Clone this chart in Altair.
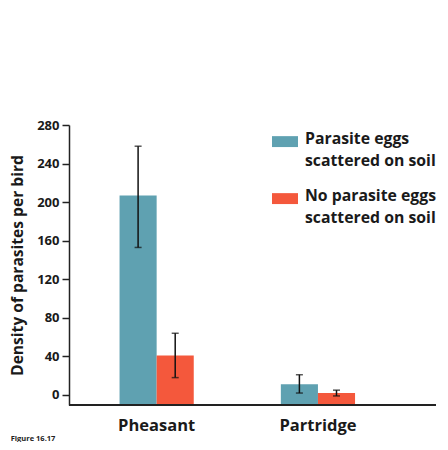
import altair as alt
import pandas as pd

birds = ["Pheasant", "Pheasant", "Partridge", "Partridge"]
conditions = [
    "Parasite eggs|scattered on soil",
    "No parasite eggs|scattered on soil",
    "Parasite eggs|scattered on soil",
    "No parasite eggs|scattered on soil",
]
means = [207, 41, 11, 2]
lows = [153, 18, 2, -1]
highs = [258, 64, 21, 5]

cond_order = ["Parasite eggs|scattered on soil", "No parasite eggs|scattered on soil"]
colors = ["#5FA1B1", "#F4583C"]
y_ticks = [0, 40, 80, 120, 160, 200, 240, 280]
bird_order = ["Pheasant", "Partridge"]

df = pd.DataFrame({"bird": birds, "cond": conditions, "mean": means, "lo": lows, "hi": highs})

FONT = "Open Sans"
W, H = 367, 280
YMIN = -10.4

x_scale = alt.Scale(range=[7, 329.6], paddingInner=0.54, paddingOuter=0.27)
x_axis = alt.Axis(title=None, domain=False, ticks=False, labelAngle=0,
                  labelFont=FONT, labelFontSize=16.5, labelFontWeight="bold",
                  labelColor="#1a1a1a", labelPadding=12)
y_scale = alt.Scale(domain=[YMIN, 280], nice=False, zero=False)
y_axis = alt.Axis(values=y_ticks, title="Density of parasites per bird",
                  titleFont=FONT, titleFontSize=15.6, titleFontWeight="bold",
                  titleColor="#1a1a1a", titlePadding=11,
                  labelFont=FONT, labelFontSize=13, labelFontWeight="bold",
                  labelColor="#1a1a1a", labelPadding=3, labelOverlap=False,
                  tickSize=7, tickWidth=1.5, tickColor="#222222",
                  domainColor="#222222", domainWidth=1.5, grid=False)

x_enc = alt.X("bird:N", sort=bird_order, scale=x_scale, axis=x_axis)
xo_enc = alt.XOffset("cond:N", sort=cond_order, scale=alt.Scale(paddingInner=0, paddingOuter=0))

base = alt.Chart(df)

bars = base.mark_bar().encode(
    x=x_enc,
    xOffset=xo_enc,
    y=alt.Y("mean:Q", scale=y_scale, axis=y_axis),
    y2=alt.datum(YMIN),
    color=alt.Color("cond:N", sort=cond_order,
                    scale=alt.Scale(domain=cond_order, range=colors),
                    legend=alt.Legend(title=None, orient="none", legendX=203, legendY=1,
                                      symbolType="M-1,-0.22H1V0.62H-1Z", symbolSize=676,
                                      symbolStrokeWidth=0, symbolOpacity=1,
                                      labelFont=FONT, labelFontSize=15.8, labelFontWeight="bold",
                                      labelColor="#1a1a1a", labelLimit=300, labelOffset=7,
                                      labelExpr="split(datum.label, '|')",
                                      rowPadding=14, padding=0)),
)

y_lo = alt.Y("lo:Q", scale=y_scale, axis=y_axis)
y_hi = alt.Y("hi:Q", scale=y_scale, axis=y_axis)

rules = base.mark_rule(color="#111111", strokeWidth=1.5).encode(
    x=x_enc, xOffset=xo_enc, y=y_lo, y2="hi:Q",
)
cap_lo = base.mark_tick(color="#111111", size=7, thickness=1.5).encode(
    x=x_enc, xOffset=xo_enc, y=y_lo,
)
cap_hi = base.mark_tick(color="#111111", size=7, thickness=1.5).encode(
    x=x_enc, xOffset=xo_enc, y=y_hi,
)
xline = base.mark_rule(color="#222222", strokeWidth=1.5).encode(
    y=alt.Y(datum=YMIN, scale=y_scale, axis=y_axis), x=alt.value(0), x2=alt.value(W)
)

chart = alt.layer(bars, rules, cap_lo, cap_hi, xline).properties(
    width=W, height=H,
    autosize=alt.AutoSizeParams(type="none"),
    padding={"left": 61, "top": 117, "right": 4, "bottom": 37},
    title=alt.TitleParams("Figure 16.17", orient="bottom", anchor="start", frame="bounds",
                          font=FONT, fontSize=7.5, fontWeight="bold", color="#222222",
                          dx=0, dy=1, offset=0),
).configure(style={"guide-label": {"lineHeight": 22}}, view=alt.ViewConfig(stroke=None))

chart.save("out.html", embed_options={"renderer": "svg", "actions": False})
